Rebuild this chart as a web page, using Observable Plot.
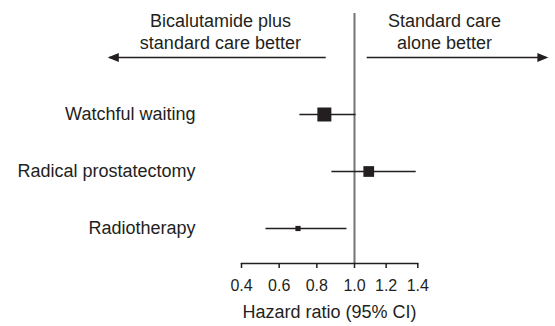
<!DOCTYPE html>
<html><head><meta charset="utf-8">
<script src="https://cdn.jsdelivr.net/npm/d3@7"></script>
<script src="https://cdn.jsdelivr.net/npm/@observablehq/plot@0.6"></script>
<style>
body{margin:0;background:#fff;}
#chart svg{display:block;}
</style></head><body><div id="chart"></div>
<script>
const categories = ["Watchful waiting", "Radical prostatectomy", "Radiotherapy"];
const hazardRatio = [0.84, 1.09, 0.70];
const ciLower = [0.71, 0.88, 0.53];
const ciUpper = [1.01, 1.39, 0.96];
const weightPct = [58, 34, 8];
const tickValues = [0.4, 0.6, 0.8, 1.0, 1.2, 1.4];
const leftHeader = "Bicalutamide plus\nstandard care better";
const rightHeader = "Standard care\nalone better";
const axisTitle = "Hazard ratio (95% CI)";

const headerRow = "header";
const ink = "#231f20";
const rows = categories.map((c, i) => ({category: c, hr: hazardRatio[i], lo: ciLower[i], hi: ciUpper[i], w: weightPct[i]}));

const headLeft = {draw(ctx) {ctx.moveTo(0, 0); ctx.lineTo(11, -4.5); ctx.lineTo(11, 4.5); ctx.closePath();}};
const headRight = {draw(ctx) {ctx.moveTo(0, 0); ctx.lineTo(-11, -4.5); ctx.lineTo(-11, 4.5); ctx.closePath();}};

const plot = Plot.plot({
  width: 555, height: 326,
  marginTop: 13, marginBottom: 63, marginLeft: 241, marginRight: 138,
  style: {fontFamily: "'Liberation Sans', Arial, sans-serif", color: ink, background: "white", overflow: "visible"},
  x: {type: "linear", domain: [0.4, 1.0, 1.4], range: [241, 354, 417.3]},
  y: {type: "point", domain: [headerRow, ...categories], range: [56, 228], padding: 0},
  r: {domain: [0, 58], range: [0, 7.9]},
  marks: [
    Plot.ruleX([1], {stroke: "#737373", strokeWidth: 2}),
    Plot.frame({anchor: "bottom", stroke: ink, strokeWidth: 1.5}),
    Plot.axisX({ticks: tickValues, tickFormat: d3.format(".1f"), tickSize: 5, tickPadding: 11, fontSize: 16, label: null, stroke: ink, strokeWidth: 1.5}),
    Plot.axisY({ticks: categories, tickSize: 0, tickPadding: 46, fontSize: 18, label: null}),
    Plot.ruleY(rows, {y: "category", x1: "lo", x2: "hi", stroke: ink, strokeWidth: 1.5}),
    Plot.dot(rows, {x: "hr", y: "category", r: "w", symbol: "square", fill: ink, stroke: null}),
    Plot.text([axisTitle], {frameAnchor: "bottom", dy: 54, fontSize: 18, fill: ink}),
    Plot.ruleY([headerRow], {y: d => d, x1: -0.3, x2: 0.85, stroke: ink, strokeWidth: 1.5}),
    Plot.ruleY([headerRow], {y: d => d, x1: 1.08, x2: 2.21, stroke: ink, strokeWidth: 1.5}),
    Plot.dot([headerRow], {y: d => d, x: -0.31, symbol: headLeft, fill: ink, stroke: null}),
    Plot.dot([headerRow], {y: d => d, x: 2.225, symbol: headRight, fill: ink, stroke: null}),
    Plot.text([leftHeader], {y: () => headerRow, x: 0.288, text: d => d, lineAnchor: "middle", dy: -27, lineHeight: 1.22, fontSize: 18, fill: ink}),
    Plot.text([rightHeader], {y: () => headerRow, x: 1.569, text: d => d, lineAnchor: "middle", dy: -27, lineHeight: 1.22, fontSize: 18, fill: ink})
  ]
});
document.getElementById("chart").appendChild(plot);
</script>
</body></html>
